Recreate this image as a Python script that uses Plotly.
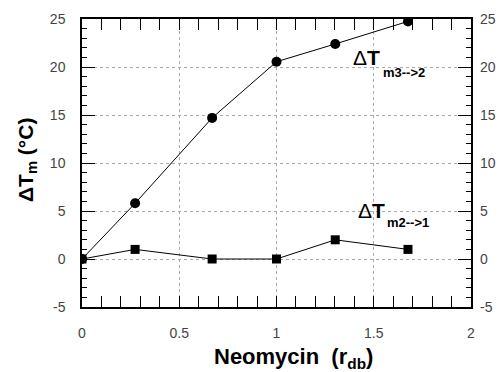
import plotly.graph_objects as go

neomycin = [0, 0.273, 0.669, 1.0, 1.302, 1.676]
dtm_32 = [0, 5.8, 14.7, 20.55, 22.4, 24.75]
dtm_21 = [0, 1.0, 0, 0, 2.0, 1.0]
xticks = [0, 0.5, 1, 1.5, 2]
yticks = [-5, 0, 5, 10, 15, 20, 25]
yticklabels = ["-5", "0", "5", "10", "15", "20", "25"]

W, H = 501, 372
ml, mr, mt, mb = 82, 30, 19, 65
fig = go.Figure()
fig.add_trace(go.Scatter(x=neomycin, y=dtm_32, mode="lines+markers",
                         line=dict(color="black", width=1),
                         marker=dict(symbol="circle", size=10, color="black"),
                         showlegend=False))
fig.add_trace(go.Scatter(x=neomycin, y=dtm_21, mode="lines+markers",
                         line=dict(color="black", width=1),
                         marker=dict(symbol="square", size=9, color="black"),
                         showlegend=False))

tickfont = dict(family="Liberation Sans, Arial, sans-serif", size=14, color="#444")
axcommon = dict(showline=True, linecolor="black", linewidth=1.5,
                ticks="inside", tickcolor="black", tickwidth=1.2,
                showgrid=True, gridcolor="#aaa", griddash="dot", gridwidth=1,
                zeroline=False, tickfont=tickfont, automargin=False)
fig.update_layout(
    width=W, height=H, margin=dict(l=ml, r=mr, t=mt, b=mb),
    plot_bgcolor="white", paper_bgcolor="white",
    xaxis=dict(range=[0, 2], tickvals=xticks, ticktext=[str(v) for v in xticks],
               ticklen=11, mirror="allticks", ticklabelstandoff=12,
               minor=dict(dtick=0.1, ticklen=5, ticks="inside", tickcolor="black", showgrid=False),
               **axcommon),
    yaxis=dict(range=[-5, 25], tickvals=yticks, ticktext=yticklabels, ticklen=13,
               mirror="allticks", ticklabelstandoff=12,
               minor=dict(dtick=1, ticklen=5, ticks="inside", tickcolor="black", showgrid=False),
               **axcommon),
    yaxis2=dict(range=[-5, 25], tickvals=yticks, ticktext=yticklabels, overlaying="y",
                side="right", showgrid=False, zeroline=False, ticks="", showline=False,
                ticklabelstandoff=8, tickfont=tickfont, automargin=False),
)
fig.add_trace(go.Scatter(x=[None], y=[None], yaxis="y2", showlegend=False, hoverinfo="skip"))

fam = "Liberation Sans, Arial, sans-serif"

def px(xp, yp):
    return (xp - ml) / (W - ml - mr), (H - mb - yp) / (H - mt - mb)

def add_text(text, xp, yp, size, xanchor="left", angle=0, yanchor="middle"):
    x, y = px(xp, yp)
    fig.add_annotation(text=text, x=x, y=y, xref="paper", yref="paper",
                       xanchor=xanchor, yanchor=yanchor, showarrow=False,
                       textangle=angle,
                       font=dict(family=fam, size=size, color="black"))

add_text("Δ<b>T</b>", 351, 58, 21)
add_text("<b>m3-->2</b>", 381, 72, 13)
add_text("Δ<b>T</b>", 356, 210, 21)
add_text("<b>m2-->1</b>", 385, 222, 13)
add_text("<b>ΔT<sub>m</sub> (°C)</b>", 27, 160, 21, xanchor="center", angle=-90)
add_text("<b>Neomycin  (r<sub>db</sub>)</b>", 293, 358, 22, xanchor="center")

fig.write_html("out.html")
